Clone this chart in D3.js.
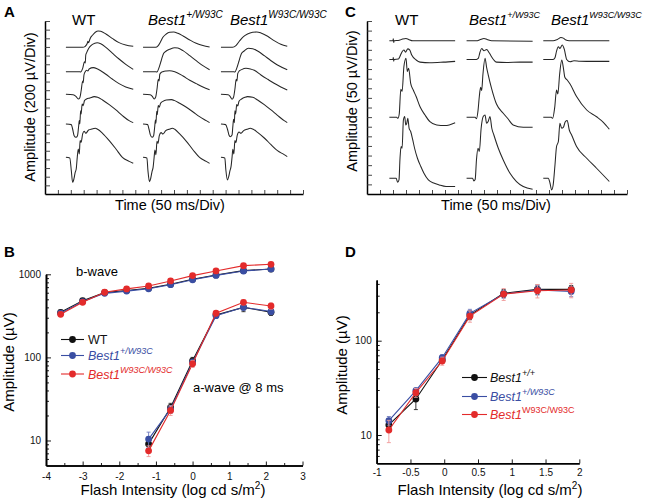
<!DOCTYPE html>
<html><head><meta charset="utf-8">
<script src="https://cdn.jsdelivr.net/npm/d3@7"></script>
<style>body{margin:0;background:#fff;} svg{display:block;font-family:"Liberation Sans", Arial, sans-serif;}</style>
</head><body><svg id="c" width="647" height="501"></svg>
<script>
// ---------- DATA ----------
const genoLabels = ["WT", "Best1", "Best1"];
const genoSups = ["", "+/W93C", "W93C/W93C"];
// Panel A: ERG traces (ms from column start, µV from trace baseline)
const colStartA = [81, 380, 682];
const baseA = [3392, 2828, 2305, 1619, 848];
const traceA_WT = [
 [[0,0],[65,0],[75,23],[83,93],[85,139],[88,108],[92,170],[95,216],[103,278],[114,347],[125,378],[135,370],[155,308],[181,200],[206,108],[232,54],[261,23]],
 [[0,0],[52,0],[57,-8],[65,77],[72,231],[75,200],[77,386],[81,447],[85,501],[93,578],[103,632],[121,671],[135,648],[155,563],[181,424],[206,293],[232,170],[261,54]],
 [[0,0],[28,-8],[39,-46],[48,-108],[54,-77],[59,77],[65,308],[67,270],[70,447],[75,524],[80,555],[85,540],[90,586],[106,617],[123,586],[155,463],[181,347],[206,247],[232,170],[261,116]],
 [[0,0],[21,-15],[26,-116],[32,-270],[39,-308],[45,-270],[49,-77],[52,77],[54,0],[57,308],[59,231],[63,463],[67,424],[72,540],[80,578],[93,601],[110,632],[123,617],[142,555],[168,447],[194,324],[219,193],[245,77],[261,31]],
 [[0,0],[15,-15],[21,-308],[26,-578],[31,-501],[36,-347],[40,-270],[44,0],[48,193],[52,77],[55,386],[59,347],[65,540],[71,601],[77,555],[88,632],[101,655],[114,671],[123,648],[142,555],[168,386],[194,193],[219,0],[245,-93],[261,-139]]
];
const traceA_Het = [
 [[0,0],[49,0],[58,31],[67,116],[77,231],[90,308],[103,347],[119,355],[135,324],[155,262],[181,170],[206,93],[232,39],[258,8]],
 [[0,0],[46,0],[54,-8],[62,93],[70,247],[75,347],[80,424],[90,478],[103,517],[123,555],[135,547],[155,486],[181,370],[206,254],[232,139],[258,46]],
 [[0,0],[28,-8],[36,-46],[43,-108],[49,-62],[54,116],[59,347],[62,308],[65,463],[71,509],[77,524],[90,540],[103,547],[123,524],[155,424],[181,324],[206,247],[232,170],[258,108]],
 [[0,0],[18,-15],[23,-116],[28,-247],[35,-308],[41,-270],[45,-77],[48,93],[50,15],[53,293],[55,216],[59,424],[63,386],[68,478],[77,524],[90,555],[110,563],[123,540],[142,478],[168,386],[194,278],[219,170],[245,77],[258,31]],
 [[0,0],[15,-15],[19,-308],[25,-563],[30,-478],[35,-324],[39,-231],[43,0],[46,170],[50,62],[54,370],[58,324],[63,501],[70,571],[77,540],[88,617],[101,648],[114,671],[123,648],[142,540],[168,370],[194,170],[219,0],[245,-93],[258,-139]]
];
const traceA_Hom = [
 [[0,0],[45,0],[58,39],[71,139],[84,231],[103,308],[123,347],[139,355],[155,332],[181,254],[206,154],[232,69],[257,23]],
 [[0,0],[46,0],[54,-8],[62,93],[70,247],[75,347],[80,424],[90,478],[106,540],[123,532],[142,478],[168,370],[194,254],[219,154],[257,46]],
 [[0,0],[28,-8],[36,-54],[43,-116],[49,-62],[54,116],[59,347],[62,308],[65,478],[71,540],[80,571],[97,601],[114,586],[129,555],[155,447],[181,347],[206,254],[232,170],[257,100]],
 [[0,0],[18,-15],[25,-116],[31,-254],[36,-293],[43,-254],[46,-62],[49,108],[52,31],[54,308],[57,231],[61,447],[65,416],[70,524],[80,578],[93,617],[103,632],[123,617],[142,555],[168,447],[194,324],[219,200],[245,77],[257,31]],
 [[0,0],[15,-15],[19,-293],[25,-524],[30,-447],[35,-308],[39,-216],[43,0],[46,185],[50,77],[54,386],[58,339],[63,509],[70,586],[77,555],[88,617],[101,648],[114,671],[123,655],[142,578],[168,447],[194,293],[219,154],[245,62],[257,15]]
];
// Panel C: oscillatory potentials
const colStartC = [86, 383, 678];
const baseC = [797, 700, 399, 82];
const traceC_WT = [
 [[0,0],[14,0],[15,10],[17,-9],[18,0],[38,3],[51,9],[64,12],[74,7],[90,0],[253,0]],
 [[0,0],[14,0],[15,10],[17,-9],[18,0],[35,2],[41,17],[49,40],[56,49],[62,38],[71,55],[78,50],[86,23],[103,-3],[118,-14],[156,-17],[208,-14],[253,-10]],
 [[0,0],[28,0],[33,-5],[38,17],[44,146],[49,134],[56,264],[64,307],[69,238],[74,255],[82,177],[92,142],[103,108],[118,55],[137,12],[156,-23],[182,-40],[214,-43],[253,-28]],
 [[0,0],[26,0],[32,-21],[37,-9],[41,104],[45,165],[49,156],[54,303],[59,321],[63,277],[67,286],[71,312],[76,260],[82,243],[90,199],[97,156],[108,104],[121,61],[133,26],[150,-9],[173,-26],[192,-35],[218,-43],[253,-43]]
];
const traceC_Het = [
 [[0,0],[38,0],[51,5],[67,12],[79,7],[96,0],[254,-2]],
 [[0,0],[38,0],[45,5],[51,35],[58,57],[67,45],[77,52],[87,35],[96,14],[105,-3],[115,-14],[154,-16],[205,-14],[254,-14]],
 [[0,0],[33,0],[38,-7],[44,35],[49,108],[54,156],[58,139],[63,225],[71,307],[77,260],[83,222],[96,151],[115,69],[141,21],[160,-9],[179,-40],[218,-52],[254,-52]],
 [[0,0],[23,0],[28,-14],[33,-7],[38,95],[44,156],[49,139],[56,260],[64,321],[71,329],[77,286],[83,295],[90,321],[97,260],[105,225],[122,156],[141,95],[167,26],[192,-17],[218,-43],[254,-57]]
];
const traceC_Hom = [
 [[0,0],[38,0],[54,7],[68,17],[77,14],[85,5],[100,0],[254,0]],
 [[0,0],[38,0],[45,9],[51,43],[58,66],[64,57],[73,75],[81,52],[90,0],[103,-12],[118,-7],[141,-9],[192,-10],[254,-10]],
 [[0,0],[31,0],[36,-5],[44,52],[51,142],[56,121],[63,225],[71,298],[77,260],[83,208],[92,194],[103,173],[128,108],[167,38],[205,3],[231,-26],[254,-62]],
 [[0,0],[19,0],[26,-26],[32,-61],[38,-35],[45,69],[51,165],[58,191],[64,286],[71,260],[77,264],[85,295],[92,300],[100,251],[109,225],[128,165],[167,104],[205,52],[254,-17]]
];
// Panel B: intensity-response (log cd s/m2 vs µV)
const bX = [-3.6, -3.0, -2.4, -1.8, -1.2, -0.6, 0, 0.64, 1.39, 2.14];
const bWave_WT  = [349, 482, 602, 637, 679, 759, 871, 982, 1107, 1159];
const bWave_Het = [340, 470, 590, 628, 670, 750, 860, 970, 1095, 1160];
const bWave_Hom = [330, 460, 608, 667, 724, 832, 964, 1097, 1271, 1319];
const bErr_WT  = [20, 25, 30, 30, 30, 35, 40, 50, 60, 60];
const bErr_Het = [20, 25, 30, 30, 30, 35, 40, 50, 60, 60];
const bErr_Hom = [20, 25, 30, 30, 30, 35, 40, 50, 60, 60];
const aX = [-1.2, -0.6, 0, 0.64, 1.39, 2.14];
const aWave_WT  = [9.1, 25, 91, 325, 400, 350];
const aWave_Het = [10.4, 23.8, 87, 318, 401, 356];
const aWave_Hom = [7.5, 23, 83.6, 340, 460, 416];
const aErr_WT  = [1.2, 3, 9, 25, 45, 30];
const aErr_Het = [2.2, 2.5, 8, 20, 35, 30];
const aErr_Hom = [1.1, 3, 8, 20, 30, 35];
const bXTicks = [-4, -3, -2, -1, 0, 1, 2, 3];
const bYTicks = [10, 100, 1000];
// Panel D
const dX = [-0.82, -0.42, -0.03, 0.38, 0.88, 1.38, 1.88];
const d_WT  = [12.8, 24.1, 62.4, 187, 318, 350, 350];
const d_Het = [14.2, 29.5, 66, 195, 312, 345, 333];
const d_Hom = [11.3, 28.1, 60.9, 182, 312, 339, 345];
const dErr_WT  = [1.5, 5.5, 5, 20, 30, 40, 35];
const dErr_Het = [1.5, 2, 5, 20, 30, 40, 40];
const dErr_Hom = [3, 3, 6, 25, 45, 55, 60];
const dXTicks = [-1, -0.5, 0, 0.5, 1, 1.5, 2];
const dYTicks = [10, 100];

// ---------- DRAW ----------
const svg = d3.select("#c");
const colors = {WT: "#111111", Het: "#3a4ea3", Hom: "#e32b2b"};
const errColors = {WT: "#222", Het: "#6f7bbd", Hom: "#f09a9a"};

function panelLabel(t, x, y) {
  svg.append("text").attr("x", x).attr("y", y).attr("font-size", 15).attr("font-weight", "bold").text(t);
}
function supText(g, x, y, base, sup, o) {
  const t = g.append("text").attr("x", x).attr("y", y).attr("font-size", o.size).attr("fill", o.color || "#000");
  t.append("tspan").text(base).attr("font-style", o.italic ? "italic" : null);
  if (sup) t.append("tspan").text(sup).attr("font-size", o.supSize).attr("dy", -o.shift).attr("font-style", o.supItalic ? "italic" : null);
  return t;
}

function tracePanel(x, y, yStep, colStarts, bases, traceSets, headerX, supSize, titleY, titleX, titleXY) {
  const g = svg.append("g");
  const yTickVals = d3.range(yStep, y.domain()[1] + 1, yStep);
  const xTickVals = d3.range(50, 1001, 50);
  g.append("g").attr("transform", `translate(${x.range()[0]},0)`)
    .call(d3.axisRight(y).tickValues(yTickVals).tickSize(5).tickSizeOuter(0).tickFormat(""));
  g.append("g").attr("transform", `translate(0,${y.range()[0]})`)
    .call(d3.axisTop(x).tickValues(xTickVals).tickSize(4).tickSizeOuter(0).tickFormat(""));
  g.selectAll(".domain").attr("stroke-width", 1.5);
  g.selectAll(".tick line").attr("stroke-width", 0.9).attr("stroke", "#333");
  traceSets.forEach((set, c) => {
    set.forEach((tr, i) => {
      const line = d3.line()
        .x(d => x(colStarts[c] + d[0]))
        .y(d => y(bases[i] + d[1]))
        .curve(d3.curveMonotoneX);
      g.append("path").attr("d", line(tr)).attr("fill", "none").attr("stroke", "#262626").attr("stroke-width", 1.05);
    });
  });
  // headers
  supText(g, headerX[0], 25, genoLabels[0], "", {size: 15});
  supText(g, headerX[1], 25, genoLabels[1], genoSups[1], {size: 15, italic: true, supItalic: true, supSize: supSize, shift: 7});
  supText(g, headerX[2], 25, genoLabels[2], genoSups[2], {size: 15, italic: true, supItalic: true, supSize: supSize, shift: 7});
  g.append("text").attr("transform", `translate(${titleY[0]},${titleY[1]}) rotate(-90)`).attr("text-anchor", "middle")
    .attr("font-size", 14.5).text(titleY[2]);
  g.append("text").attr("x", titleXY[0]).attr("y", titleXY[1]).attr("text-anchor", "middle").attr("font-size", 14.5).text(titleX);
}

const xA = d3.scaleLinear([0, 1000], [45, 303]);
const yA = d3.scaleLinear([0, 4000], [194, 21]);
tracePanel(xA, yA, 200, colStartA, baseA, [traceA_WT, traceA_Het, traceA_Hom], [72, 148, 230], 10,
  [35, 107, "Amplitude (200 \u00B5V/Div)"], "Time (50 ms/Div)", [170, 210]);

const xC = d3.scaleLinear([0, 1000], [367, 627]);
const yC = d3.scaleLinear([0, 900], [194, 21]);
tracePanel(xC, yC, 50, colStartC, baseC, [traceC_WT, traceC_Het, traceC_Hom], [395, 469, 551], 9,
  [357, 101, "Amplitude (50 \u00B5V/Div)"], "Time (50 ms/Div)", [496, 210]);

function logPanel(x, y, xTicks, xMinor, yMajor, yMinor, groups, xPad, titleY, titleXY) {
  const g = svg.append("g");
  const x0 = x.range()[0], y0 = y.range()[0];
  g.append("g").attr("transform", `translate(0,${y0})`)
    .call(d3.axisBottom(x).tickValues(xTicks).tickSize(-4).tickPadding(xPad).tickSizeOuter(0).tickFormat(d => String(d)));
  if (xMinor.length) g.append("g").attr("transform", `translate(0,${y0})`)
    .call(d3.axisBottom(x).tickValues(xMinor).tickSize(-2.5).tickSizeOuter(0).tickFormat(""));
  g.append("g").attr("transform", `translate(${x0},0)`)
    .call(d3.axisLeft(y).tickValues(yMajor).tickSize(-5).tickPadding(5).tickSizeOuter(0).tickFormat(d => String(d)));
  g.append("g").attr("transform", `translate(${x0},0)`)
    .call(d3.axisLeft(y).tickValues(yMinor).tickSize(-3).tickSizeOuter(0).tickFormat(""));
  g.selectAll(".domain").attr("stroke-width", 1.6);
  g.selectAll(".tick line").attr("stroke-width", 0.9);
  g.selectAll(".tick text").attr("font-size", 10).attr("font-family", '"Liberation Sans", Arial, sans-serif').attr("fill", "#111");
  groups.forEach(gr => {
    const pts = gr.xs.map((xv, i) => ({x: xv, v: gr.ys[i], e: gr.err[i]}));
    const line = d3.line().x(d => x(d.x)).y(d => y(d.v));
    g.append("path").attr("d", line(pts)).attr("fill", "none").attr("stroke", colors[gr.key]).attr("stroke-width", 1.1);
    pts.forEach(p => {
      const lo = y(Math.max(p.v - p.e, 1)), hi = y(p.v + p.e), cx = x(p.x);
      g.append("line").attr("x1", cx).attr("x2", cx).attr("y1", lo).attr("y2", hi).attr("stroke", errColors[gr.key]).attr("stroke-width", 0.9);
      [lo, hi].forEach(yy => g.append("line").attr("x1", cx - 2).attr("x2", cx + 2).attr("y1", yy).attr("y2", yy).attr("stroke", errColors[gr.key]).attr("stroke-width", 0.9));
    });
    g.selectAll(null).data(pts).enter().append("circle")
      .attr("cx", d => x(d.x)).attr("cy", d => y(d.v)).attr("r", 3.4).attr("fill", colors[gr.key]);
  });
  g.append("text").attr("transform", `translate(${titleY[0]},${titleY[1]}) rotate(-90)`).attr("text-anchor", "middle")
    .attr("font-size", 15).text("Amplitude (\u00B5V)");
  const t = g.append("text").attr("x", titleXY[0]).attr("y", titleXY[1]).attr("text-anchor", "middle").attr("font-size", 15);
  t.append("tspan").text("Flash Intensity (log cd s/m");
  t.append("tspan").text("2").attr("font-size", 10).attr("dy", -6);
  t.append("tspan").text(")").attr("dy", 6);
  return g;
}

function legend(g, lx0, lx1, tx, rows) {
  rows.forEach(r => {
    g.append("line").attr("x1", lx0).attr("x2", lx1).attr("y1", r.y).attr("y2", r.y).attr("stroke", colors[r.key]).attr("stroke-width", 1.1);
    g.append("circle").attr("cx", (lx0 + lx1) / 2).attr("cy", r.y).attr("r", 3.4).attr("fill", colors[r.key]);
    supText(g, tx, r.y + 4.5, r.base, r.sup, {size: 12.5, italic: r.italic, supItalic: r.supItalic, supSize: 9, shift: 6, color: colors[r.key]});
  });
}

// Panel B
const xB = d3.scaleLinear([-4, 3], [46, 302.5]);
const yB = d3.scaleLog([5, 1000], [465.5, 274.3]);
const minorB = [6,7,8,9,20,30,40,50,60,70,80,90,200,300,400,500,600,700,800,900];
const gB = logPanel(xB, yB, bXTicks, [-3.5,-2.5,-1.5,-0.5,0.5,1.5,2.5], bYTicks, minorB, [
  {key: "WT", xs: bX, ys: bWave_WT, err: bErr_WT},
  {key: "Het", xs: bX, ys: bWave_Het, err: bErr_Het},
  {key: "Hom", xs: bX, ys: bWave_Hom, err: bErr_Hom},
  {key: "WT", xs: aX, ys: aWave_WT, err: aErr_WT},
  {key: "Het", xs: aX, ys: aWave_Het, err: aErr_Het},
  {key: "Hom", xs: aX, ys: aWave_Hom, err: aErr_Hom}
], 7, [14, 362], [173, 495]);
gB.append("text").attr("x", 76).attr("y", 276).attr("font-size", 13).text("b-wave");
gB.append("text").attr("x", 193).attr("y", 392).attr("font-size", 13).text("a-wave @ 8 ms");
legend(gB, 61, 84, 88, [
  {key: "WT", y: 339.5, base: "WT", sup: ""},
  {key: "Het", y: 355.5, base: "Best1", sup: "+/W93C", italic: true, supItalic: true},
  {key: "Hom", y: 374, base: "Best1", sup: "W93C/W93C", italic: true, supItalic: true}
]);

// Panel D
const xD = d3.scaleLinear([-1, 2], [376.7, 579.3]);
const yD = d3.scaleLog([5, 440], [463.4, 280]);
const minorD = [6,7,8,9,20,30,40,50,60,70,80,90,200,300,400];
const gD = logPanel(xD, yD, dXTicks, [], dYTicks, minorD, [
  {key: "WT", xs: dX, ys: d_WT, err: dErr_WT},
  {key: "Het", xs: dX, ys: d_Het, err: dErr_Het},
  {key: "Hom", xs: dX, ys: d_Hom, err: dErr_Hom}
], 6, [347, 365], [490, 495]);
legend(gD, 462, 487, 490, [
  {key: "WT", y: 377.5, base: "Best1", sup: "+/+", italic: true, supItalic: true},
  {key: "Het", y: 396.5, base: "Best1", sup: "+/W93C", italic: true, supItalic: true},
  {key: "Hom", y: 414.5, base: "Best1", sup: "W93C/W93C", italic: true, supItalic: false}
]);

panelLabel("A", 4, 17);
panelLabel("C", 345, 17);
panelLabel("B", 4, 257);
panelLabel("D", 345, 257);
</script></body></html>
